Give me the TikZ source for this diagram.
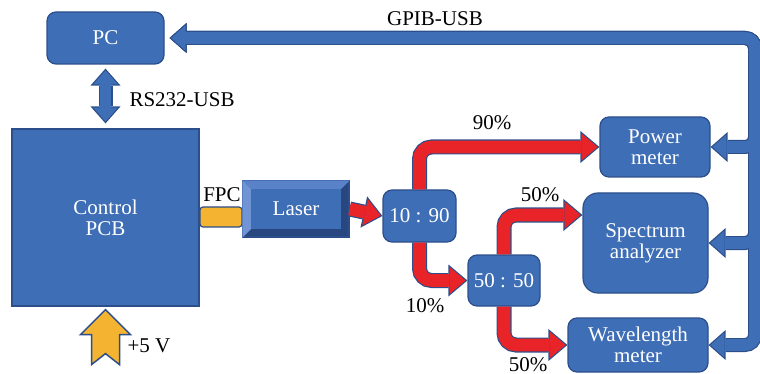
\documentclass[tikz,border=0pt]{standalone}
\usepackage{fontspec}
\setmainfont{Liberation Serif}
\usetikzlibrary{arrows.meta}

\definecolor{boxblue}{RGB}{62,110,182}
\definecolor{boxline}{RGB}{44,78,138}
\definecolor{bevlight}{RGB}{112,148,212}
\definecolor{bevtop}{RGB}{90,130,200}
\definecolor{bevdark}{RGB}{40,70,128}
\definecolor{fibred}{RGB}{232,36,40}
\definecolor{pinorange}{RGB}{244,180,50}

\tikzset{
  box/.style={draw=boxline, fill=boxblue, line width=1.2, text=white, inner sep=0, align=center},
  rbox/.style={box, rounded corners=9},
  redout/.style={draw=boxline, line width=15, rounded corners=12,
    -{Triangle[width=32, length=19, line width=0pt]}},
  redin/.style={draw=fibred, line width=12.6, rounded corners=12, shorten >=1.86,
    -{Triangle[width=26.8, length=15.9, line width=0pt]}},
  busout/.style={draw=boxline, line width=14, rounded corners=10,
    {Triangle[width=30, length=17, line width=0pt]}-{Triangle[width=30, length=17, line width=0pt]}},
  busin/.style={draw=boxblue, line width=11.6, rounded corners=10, shorten <=1.82, shorten >=1.82,
    {Triangle[width=24.7, length=14, line width=0pt]}-{Triangle[width=24.7, length=14, line width=0pt]}},
  supply/.style={draw=boxline, fill=pinorange, line width=1.5},
}
\newcommand\fibre[1]{\draw[redout] #1; \draw[redin] #1;}

\begin{document}
\begin{tikzpicture}[x=1pt, y=-1pt, every node/.style={font=\fontsize{21}{21}\selectfont}]
  \useasboundingbox (0,0) rectangle (760,374);

  % boxes
  \node[rbox, minimum width=117, minimum height=52] (pc) at (105.5,38) {PC};
  \node[box, minimum width=187, minimum height=177] (pcb) at (105.5,217.5) {Control\\PCB};
  \node[box, fill=pinorange, rounded corners=3, minimum width=42, minimum height=20] (fpc) at (221,217) {};
  \node[box, fill=bevdark, minimum width=106, minimum height=56] (laser) at (296,209) {};
  \node[inner sep=0, minimum width=90, minimum height=40] (face) at (laser) {};
  \fill[bevtop] (laser.north west) -- (laser.north east) -- (face.north east) -- (face.north west) -- cycle;
  \fill[bevlight] (laser.north west) -- (face.north west) -- (face.south west) -- (laser.south west) -- cycle;
  \node[box, draw=none, minimum width=90, minimum height=40] at (laser) {Laser};
  \node[rbox, minimum width=73, minimum height=52] (s1) at (419.5,216) {10 : 90};
  \node[rbox, minimum width=72, minimum height=51] (s2) at (504,280.5) {50 : 50};
  \node[rbox, minimum width=110, minimum height=60] (pm) at (655,147) {Power\\meter};
  \node[rbox, rounded corners=15, minimum width=125, minimum height=100] (sa) at (645.5,243) {Spectrum\\analyzer};
  \node[rbox, minimum width=140, minimum height=54] (wm) at (638,345) {Wavelength\\meter};

  % optical path
  \fibre{(laser.east) -- (s1.west)}
  \fibre{(s1.north) |- (pm.west)}
  \fibre{(s1.south) |- (s2.west)}
  \fibre{(s2.north) |- ([yshift=28]sa.west)}
  \fibre{(s2.south) |- (wm.west)}

  % GPIB bus and RS232 link
  \coordinate (gpib) at (755,38);
  \foreach \dev in {pm,sa,wm}
    \draw[busout] ([xshift=5]pc.east) -- (gpib) |- (\dev.east);
  \foreach \dev in {pm,sa,wm}
    \draw[busin] ([xshift=5]pc.east) -- (gpib) |- (\dev.east);
  \draw[busout] ([yshift=-4]pc.south) -- ([yshift=5]pcb.north);
  \draw[busin] ([yshift=-4]pc.south) -- ([yshift=5]pcb.north);

  % supply
  \draw[supply] ([yshift=-3]pcb.south) -- ++(25,25) -- ++(-11,0) -- ++(0,30) -- ++(-14,-11)
    -- ++(-14,11) -- ++(0,-30) -- ++(-11,0) -- cycle;

  % labels
  \node[anchor=base] at (435,26) {GPIB-USB};
  \node[anchor=base west] at (126,107) {RS232-USB};
  \node[anchor=base] at (222,201) {FPC};
  \node[anchor=base west] at (124,352) {+5 V};
  \node[anchor=base] at (492,130) {90\%};
  \node[anchor=base] at (540,202) {50\%};
  \node[anchor=base] at (425,312) {10\%};
  \node[anchor=base] at (528,371) {50\%};
\end{tikzpicture}
\end{document}
